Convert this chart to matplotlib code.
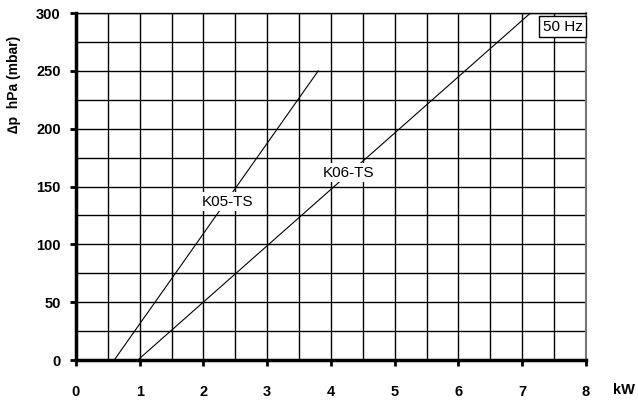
import numpy as np
import matplotlib.pyplot as plt
from matplotlib.ticker import MultipleLocator

plt.rcParams['font.family'] = ['Liberation Sans', 'DejaVu Sans']

# curve end points (kW, hPa)
k05_kw = [0.6, 3.8]
k05_dp = [0, 250]
k06_kw = [0.97, 7.13]
k06_dp = [0, 300]

x_ticks = [0, 1, 2, 3, 4, 5, 6, 7, 8]
y_ticks = [0, 50, 100, 150, 200, 250, 300]

fig = plt.figure(figsize=(6.38, 4.01), dpi=100)
ax = fig.add_axes([76/638, 1-360/401, (586-76)/638, (360-13)/401])

ax.plot(k05_kw, k05_dp, color='black', lw=0.8, zorder=3)
ax.plot(k06_kw, k06_dp, color='black', lw=0.8, zorder=3)

ax.set_xlim(0, 8)
ax.set_ylim(0, 300)
ax.set_xticks(x_ticks)
ax.set_yticks(y_ticks)
ax.xaxis.set_minor_locator(MultipleLocator(0.5))
ax.yaxis.set_minor_locator(MultipleLocator(25))
ax.grid(which='both', color='black', lw=1.0, zorder=1)
ax.set_axisbelow(True)

ax.tick_params(axis='x', which='major', direction='out', length=4, width=2,
               pad=14, labelsize=10.5)
ax.tick_params(axis='y', which='major', direction='out', length=4, width=2,
               pad=7, labelsize=10.5)
ax.tick_params(which='minor', length=0)
for lab in ax.get_xticklabels() + ax.get_yticklabels():
    lab.set_fontweight('bold')

ax.spines['left'].set_linewidth(2.5)
ax.spines['bottom'].set_linewidth(2.5)
ax.spines['top'].set_linewidth(1.0)
ax.spines['right'].set_linewidth(1.5)
ax.spines['right'].set_color('#777777')

box = dict(facecolor='white', edgecolor='none', pad=1.5)
ax.text(2.38, 137, 'K05-TS', ha='center', va='center', fontsize=11, bbox=box, zorder=4)
ax.text(4.27, 162, 'K06-TS', ha='center', va='center', fontsize=11, bbox=box, zorder=4)
ax.text(7.95, 288, '50 Hz', ha='right', va='center', fontsize=11, zorder=4,
        bbox=dict(facecolor='white', edgecolor='black', lw=1, pad=2.5))

fig.text(624/638, 1-390/401, 'kW', ha='center', va='center', fontsize=10.5, fontweight='bold')
fig.text(14/638, 1-84/401, '∆p  hPa (mbar)', ha='center', va='center', rotation=90,
         fontsize=10, fontweight='bold')

fig.savefig('out.png', dpi=100)
